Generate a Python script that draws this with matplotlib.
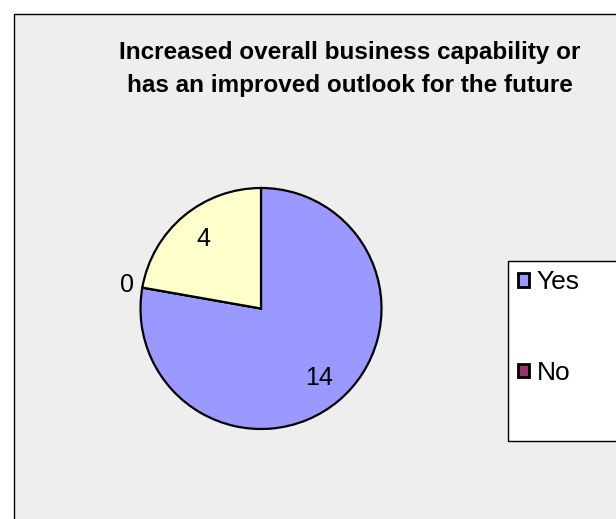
import matplotlib
matplotlib.use("Agg")
import matplotlib.pyplot as plt
from matplotlib.patches import Rectangle, Patch
import numpy as np

plt.rcParams['font.family'] = ['Liberation Sans', 'DejaVu Sans']

# Survey responses
categories = ["Yes", "No", "Don't know"]
counts = [14, 0, 4]
colors = ["#9999ff", "#993366", "#ffffcc"]
legend_labels = ["Yes", "No"]
title = "Increased overall business capability or\nhas an improved outlook for the future"

W, H = 616, 519
fig = plt.figure(figsize=(W / 100, H / 100), dpi=100)
fig.patch.set_facecolor("white")

# chart area panel
fig.patches.append(Rectangle((14 / W, -0.05), 1.1, 1 - 14 / H + 0.05,
                             transform=fig.transFigure, facecolor="#eeeeee",
                             edgecolor="black", linewidth=1.0, zorder=0))

fig.text(350 / W, 1 - 69 / H, title, ha="center", va="center",
         fontsize=17.5, fontweight="bold", linespacing=1.55,
         multialignment="center", zorder=3)

# pie axes: centre (261, 308.5) px, radius 120.5 px
cx, cy, r = 261, 308.5, 120.5
ax = fig.add_axes([(cx - r) / W, (H - cy - r) / H, 2 * r / W, 2 * r / H])
ax.set_zorder(2)
ax.set_facecolor("none")
wedges, _ = ax.pie(counts, colors=colors, startangle=90, counterclock=False,
                   radius=1.0,
                   wedgeprops=dict(edgecolor="black", linewidth=1.6))
ax.set_xlim(-1.0, 1.0)
ax.set_ylim(-1.0, 1.0)
ax.set_aspect("equal")
ax.axis("off")

for w, v in zip(wedges, counts):
    ang = np.deg2rad((w.theta1 + w.theta2) / 2)
    d = 0.75 if v > 0 else 1.13
    ax.text(d * np.cos(ang), d * np.sin(ang), str(v), ha="center",
            va="center", fontsize=18)

# legend box
fig.patches.append(Rectangle((508 / W, 1 - 441 / H), 0.3, 180 / H,
                             transform=fig.transFigure, facecolor="white",
                             edgecolor="black", linewidth=1.0, zorder=1))
handles = [Patch(facecolor=c, edgecolor="black", linewidth=2.0)
           for c in colors[:len(legend_labels)]]
leg = fig.legend(handles, legend_labels, loc="upper left",
                 bbox_to_anchor=(513 / W, 1 - 265 / H), frameon=False,
                 fontsize=19, handlelength=0.42, handleheight=0.42,
                 handletextpad=0.27, labelspacing=2.52, borderpad=0.2,
                 borderaxespad=0)
leg.set_zorder(5)

fig.savefig("out.png", dpi=100, facecolor="white")
